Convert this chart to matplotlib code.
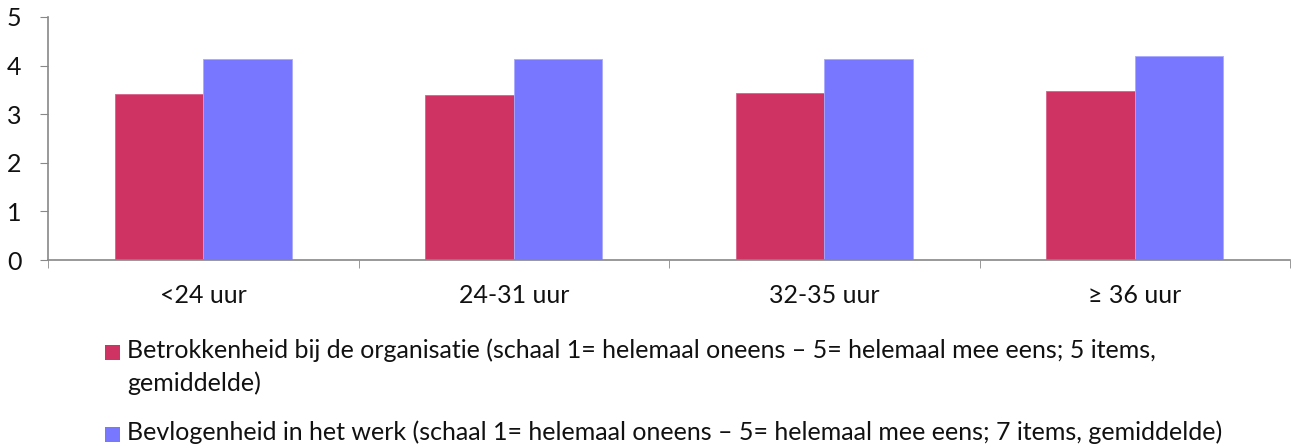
import matplotlib
matplotlib.use("Agg")
import matplotlib.pyplot as plt
from matplotlib.patches import Rectangle
import numpy as np

categories = ["<24 uur", "24-31 uur", "32-35 uur", "≥ 36 uur"]
betrokkenheid = [3.42, 3.39, 3.44, 3.48]
bevlogenheid = [4.13, 4.13, 4.14, 4.19]
series_labels = [
    "Betrokkenheid bij de organisatie (schaal 1= helemaal oneens – 5= helemaal mee eens; 5 items,\ngemiddelde)",
    "Bevlogenheid in het werk (schaal 1= helemaal oneens – 5= helemaal mee eens; 7 items, gemiddelde)",
]
series_colors = ["#CF3363", "#7777FF"]
edge_colors = ["#D9628A", "#A9A9FF"]
yticks = [0, 1, 2, 3, 4, 5]

plt.rcParams["font.family"] = ["Lato", "DejaVu Sans"]
FS = 18
W, H = 1300, 448
fig = plt.figure(figsize=(W / 100, H / 100), dpi=100)
ax = fig.add_axes([48 / W, 1 - 260 / H, (1290 - 48) / W, (260 - 17) / H])

x = np.arange(len(categories))
w = 0.285
bars = []
for i, vals in enumerate([betrokkenheid, bevlogenheid]):
    off = (i - 0.5) * w
    bars.append(ax.bar(x + off, vals, w, color=series_colors[i],
                       edgecolor=edge_colors[i], linewidth=0.6))

ax.set_xlim(-0.5, len(categories) - 0.5)
ax.set_ylim(0, 5)
ax.set_yticks(yticks)
ax.tick_params(axis="y", labelsize=FS, length=6, color="#888888", pad=13,
               labelcolor="#111111")
ax.set_xticks(x)
ax.set_xticklabels(categories, fontsize=FS)
ax.tick_params(axis="x", length=0, pad=17, labelcolor="#111111")
ax.set_xticks(np.arange(len(categories) + 1) - 0.5, minor=True)
ax.tick_params(axis="x", which="minor", length=6, color="#888888")
for s in ["top", "right"]:
    ax.spines[s].set_visible(False)
for s in ["left", "bottom"]:
    ax.spines[s].set_color("#888888")
    ax.spines[s].set_linewidth(1.2)

# Legend below the plot: colour square followed by wrapped description
entry_baselines = [358, 440]   # pixel rows of each entry's first line
line_step = 33
for label, color, base in zip(series_labels, series_colors, entry_baselines):
    sq = 15
    fig.add_artist(Rectangle((105 / W, 1 - (base - 6 + sq / 2) / H), sq / W, sq / H,
                             transform=fig.transFigure, facecolor=color,
                             edgecolor="none"))
    for k, line in enumerate(label.split("\n")):
        fig.text(127 / W, 1 - (base + k * line_step) / H, line, fontsize=FS,
                 ha="left", va="baseline", color="#111111")

fig.savefig("out.png", dpi=100)
